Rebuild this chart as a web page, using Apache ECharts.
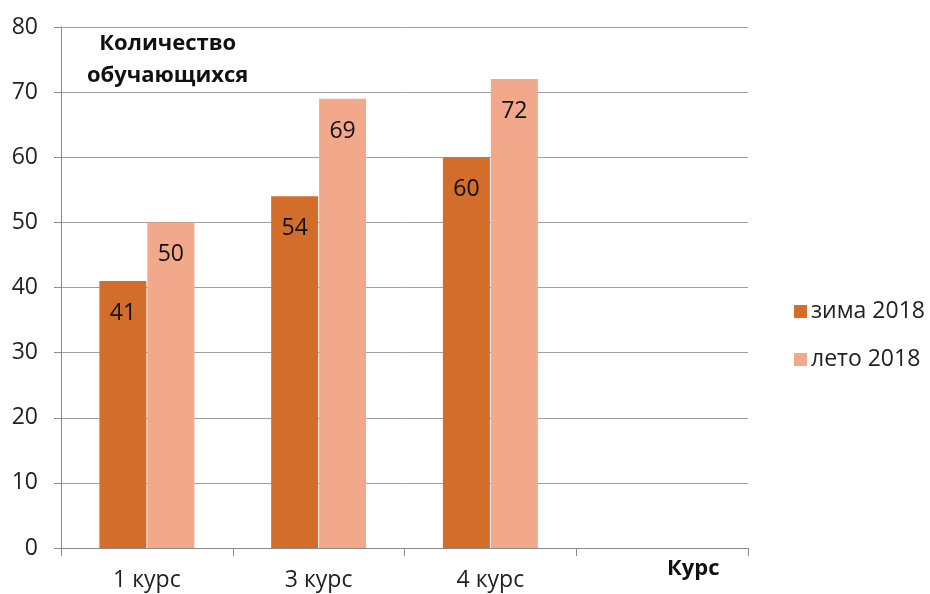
<!DOCTYPE html>
<html>
<head>
<meta charset="utf-8">
<script src="https://cdn.jsdelivr.net/npm/echarts@6/dist/echarts.min.js"></script>
<style>
  html, body { margin: 0; padding: 0; background: #fff; }
  #chart { width: 930px; height: 594px; }
</style>
</head>
<body>
<div id="chart"></div>
<script>
// Student counts per course, winter vs summer 2018
const courses = ['1 курс', '3 курс', '4 курс', ''];
const winter2018 = [41, 54, 60, null];
const summer2018 = [50, 69, 72, null];
const seriesNames = ['зима 2018', 'лето 2018'];
const yTitle = 'Количество\nобучающихся';
const xTitle = 'Курс';

const FONT = '"Open Sans", "Noto Sans", sans-serif';
const chart = echarts.init(document.getElementById('chart'));

const barLabel = {
  show: true,
  position: 'insideTop',
  distance: 21,
  fontSize: 23,
  fontFamily: FONT,
  color: '#111'
};

chart.setOption({
  animation: false,
  backgroundColor: '#fff',
  grid: { left: 61, right: 182, top: 27, bottom: 46 },
  legend: {
    orient: 'vertical',
    left: 789,
    top: 295,
    itemWidth: 13,
    itemHeight: 13,
    itemGap: 25,
    icon: 'rect',
    textStyle: { fontSize: 23, fontFamily: FONT, color: '#222', padding: [0, 0, 0, -1] },
    data: seriesNames
  },
  xAxis: {
    type: 'category',
    data: courses,
    axisLine: { lineStyle: { color: '#8a8a8a', width: 1 } },
    axisTick: { show: true, length: 8, alignWithLabel: false, lineStyle: { color: '#8a8a8a' } },
    axisLabel: { fontSize: 23, fontFamily: FONT, color: '#222', margin: 21 }
  },
  yAxis: {
    type: 'value',
    min: 0,
    max: 80,
    interval: 10,
    axisLine: { show: true, lineStyle: { color: '#8a8a8a', width: 1 } },
    axisTick: { show: true, length: 7, lineStyle: { color: '#8a8a8a' } },
    axisLabel: { fontSize: 23, fontFamily: FONT, color: '#222', margin: 23 },
    splitLine: { lineStyle: { color: '#a0a0a0', width: 1 } }
  },
  graphic: [
    {
      type: 'text',
      left: 87,
      top: 28,
      style: {
        text: yTitle,
        font: 'bold 22px ' + FONT,
        fill: '#111',
        textAlign: 'center',
        lineHeight: 32
      }
    },
    {
      type: 'text',
      left: 667,
      top: 558,
      style: {
        text: xTitle,
        font: 'bold 22px ' + FONT,
        fill: '#111'
      }
    }
  ],
  series: [
    {
      name: seriesNames[0],
      type: 'bar',
      data: winter2018,
      barWidth: 47,
      barGap: '2%',
      itemStyle: { color: '#D26D2B' },
      label: barLabel
    },
    {
      name: seriesNames[1],
      type: 'bar',
      data: summer2018,
      barWidth: 47,
      itemStyle: { color: '#F1A88B' },
      label: barLabel
    }
  ]
});
</script>
</body>
</html>
